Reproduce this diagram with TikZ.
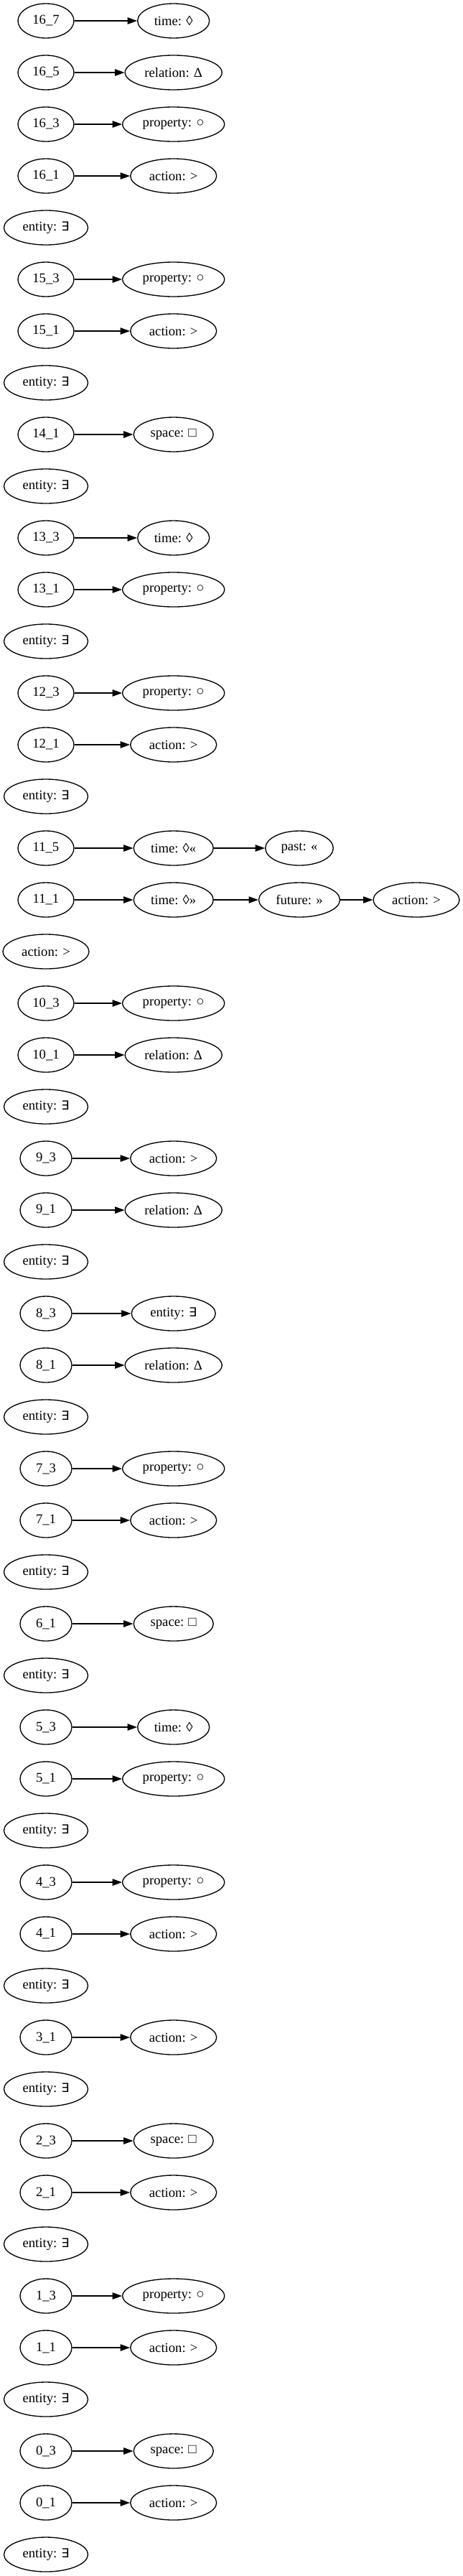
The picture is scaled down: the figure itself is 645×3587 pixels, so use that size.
\documentclass[tikz,border=0pt]{standalone}
\usepackage{fontspec}
\setmainfont{Liberation Serif}
\newfontfamily\symfont{DejaVu Sans}
\usetikzlibrary{shapes.geometric,arrows.meta}
\newcommand\gvfont{\fontsize{14pt}{16pt}\selectfont}
\newcommand\ex{{\symfont\fontsize{13pt}{16pt}\selectfont ∃}}
\tikzset{
  g/.style={draw, ellipse, line width=1pt, inner sep=0pt, minimum height=36pt, font=\gvfont},
  wn/.style={g, minimum width=54pt},
  wnn/.style={g, minimum width=58.5pt},
  went/.style={g, minimum width=87.75pt},
  wact/.style={g, minimum width=90pt},
  wrel/.style={g, minimum width=101.25pt},
  wprop/.style={g, minimum width=106.5pt},
  wtime/.style={g, minimum width=75pt},
  wspace/.style={g, minimum width=83.25pt},
  wtimeb/.style={g, minimum width=83.25pt},
  wpast/.style={g, minimum width=70.9pt},
  wfut/.style={g, minimum width=84.75pt},
  arr/.style={-{Triangle[length=10pt,width=7pt]}, line width=1pt}
}
\begin{document}
\begin{tikzpicture}[x=0.75pt,y=-0.75pt]
\useasboundingbox (0,0) rectangle (645,3587);
% row 0-4
\node[wnn] (n16_7) at (64,29) {16\_7};
\node[wtime] (t16_7) at (241.7,29) {time: ◊};
\node[wnn] (n16_5) at (64,101) {16\_5};
\node[wrel] (t16_5) at (241.7,101) {relation: Δ};
\node[wnn] (n16_3) at (64,173) {16\_3};
\node[wprop] (t16_3) at (241.7,173) {property: ○};
\node[wnn] (n16_1) at (64,245) {16\_1};
\node[wact] (t16_1) at (241.7,245) {action: >};
\node[went] (e16) at (64,317) {entity: \ex};
% 15
\node[wnn] (n15_3) at (64,389) {15\_3};
\node[wprop] (t15_3) at (241.7,389) {property: ○};
\node[wnn] (n15_1) at (64,461) {15\_1};
\node[wact] (t15_1) at (241.7,461) {action: >};
\node[went] (e15) at (64,533) {entity: \ex};
% 14
\node[wnn] (n14_1) at (64,605) {14\_1};
\node[wspace] (t14_1) at (241.7,605) {space: □};
\node[went] (e14) at (64,677) {entity: \ex};
% 13
\node[wnn] (n13_3) at (64,749) {13\_3};
\node[wtime] (t13_3) at (241.7,749) {time: ◊};
\node[wnn] (n13_1) at (64,821) {13\_1};
\node[wprop] (t13_1) at (241.7,821) {property: ○};
\node[went] (e13) at (64,893) {entity: \ex};
% 12
\node[wnn] (n12_3) at (64,965) {12\_3};
\node[wprop] (t12_3) at (241.7,965) {property: ○};
\node[wnn] (n12_1) at (64,1037) {12\_1};
\node[wact] (t12_1) at (241.7,1037) {action: >};
\node[went] (e12) at (64,1109) {entity: \ex};
% 11
\node[wnn] (n11_5) at (64,1181) {11\_5};
\node[wtimeb] (t11_5) at (241.7,1181) {time: ◊«};
\node[wpast] (p11_5) at (417,1181) {past: «};
\node[wnn] (n11_1) at (64,1253) {11\_1};
\node[wtimeb] (t11_1) at (241.7,1253) {time: ◊»};
\node[wfut] (f11_1) at (417,1253) {future: »};
\node[wact] (a11_1) at (580,1253) {action: >};
\node[wact] (a11) at (64,1325) {action: >};
% 10
\node[wnn] (n10_3) at (64,1397) {10\_3};
\node[wprop] (t10_3) at (241.7,1397) {property: ○};
\node[wnn] (n10_1) at (64,1469) {10\_1};
\node[wrel] (t10_1) at (241.7,1469) {relation: Δ};
\node[went] (e10) at (64,1541) {entity: \ex};
% 9
\node[wn] (n9_3) at (64,1613) {9\_3};
\node[wact] (t9_3) at (241.7,1613) {action: >};
\node[wn] (n9_1) at (64,1685) {9\_1};
\node[wrel] (t9_1) at (241.7,1685) {relation: Δ};
\node[went] (e9) at (64,1757) {entity: \ex};
% 8
\node[wn] (n8_3) at (64,1829) {8\_3};
\node[went] (t8_3) at (241.7,1829) {entity: \ex};
\node[wn] (n8_1) at (64,1901) {8\_1};
\node[wrel] (t8_1) at (241.7,1901) {relation: Δ};
\node[went] (e8) at (64,1973) {entity: \ex};
% 7
\node[wn] (n7_3) at (64,2045) {7\_3};
\node[wprop] (t7_3) at (241.7,2045) {property: ○};
\node[wn] (n7_1) at (64,2117) {7\_1};
\node[wact] (t7_1) at (241.7,2117) {action: >};
\node[went] (e7) at (64,2189) {entity: \ex};
% 6
\node[wn] (n6_1) at (64,2261) {6\_1};
\node[wspace] (t6_1) at (241.7,2261) {space: □};
\node[went] (e6) at (64,2333) {entity: \ex};
% 5
\node[wn] (n5_3) at (64,2405) {5\_3};
\node[wtime] (t5_3) at (241.7,2405) {time: ◊};
\node[wn] (n5_1) at (64,2477) {5\_1};
\node[wprop] (t5_1) at (241.7,2477) {property: ○};
\node[went] (e5) at (64,2549) {entity: \ex};
% 4
\node[wn] (n4_3) at (64,2621) {4\_3};
\node[wprop] (t4_3) at (241.7,2621) {property: ○};
\node[wn] (n4_1) at (64,2693) {4\_1};
\node[wact] (t4_1) at (241.7,2693) {action: >};
\node[went] (e4) at (64,2765) {entity: \ex};
% 3
\node[wn] (n3_1) at (64,2837) {3\_1};
\node[wact] (t3_1) at (241.7,2837) {action: >};
\node[went] (e3) at (64,2909) {entity: \ex};
% 2
\node[wn] (n2_3) at (64,2981) {2\_3};
\node[wspace] (t2_3) at (241.7,2981) {space: □};
\node[wn] (n2_1) at (64,3053) {2\_1};
\node[wact] (t2_1) at (241.7,3053) {action: >};
\node[went] (e2) at (64,3125) {entity: \ex};
% 1
\node[wn] (n1_3) at (64,3197) {1\_3};
\node[wprop] (t1_3) at (241.7,3197) {property: ○};
\node[wn] (n1_1) at (64,3269) {1\_1};
\node[wact] (t1_1) at (241.7,3269) {action: >};
\node[went] (e1) at (64,3341) {entity: \ex};
% 0
\node[wn] (n0_3) at (64,3413) {0\_3};
\node[wspace] (t0_3) at (241.7,3413) {space: □};
\node[wn] (n0_1) at (64,3485) {0\_1};
\node[wact] (t0_1) at (241.7,3485) {action: >};
\node[went] (e0) at (64,3557) {entity: \ex};
% edges
\foreach \k in {16_7,16_5,16_3,16_1,15_3,15_1,14_1,13_3,13_1,12_3,12_1,11_5,11_1,10_3,10_1,9_3,9_1,8_3,8_1,7_3,7_1,6_1,5_3,5_1,4_3,4_1,3_1,2_3,2_1,1_3,1_1,0_3,0_1}
  \draw[arr] (n\k) -- (t\k);
\draw[arr] (t11_5) -- (p11_5);
\draw[arr] (t11_1) -- (f11_1);
\draw[arr] (f11_1) -- (a11_1);
\end{tikzpicture}
\end{document}
